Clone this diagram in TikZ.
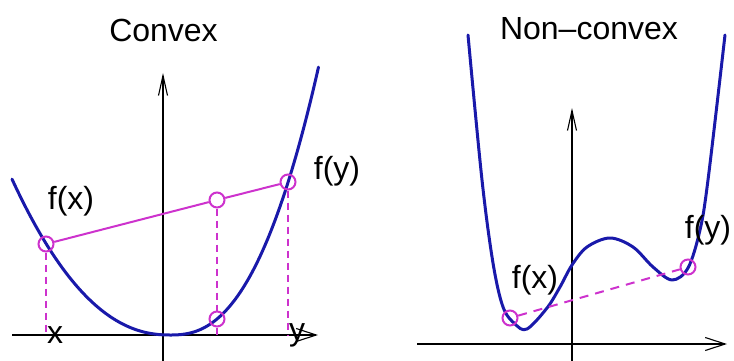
\documentclass[tikz,border=0pt]{standalone}
\usepackage{fontspec}
\setmainfont{Liberation Sans}
\usetikzlibrary{arrows.meta}
\definecolor{fblue}{RGB}{25,25,170}
\definecolor{fmag}{RGB}{205,50,205}
\begin{document}
\begin{tikzpicture}[x=1pt,y=-1pt,
  axis/.style={line width=1.1pt, -{Straight Barb[length=20pt,width=9pt,line width=1.1pt]}},
  hax/.style={line width=1.1pt, -{Straight Barb[length=20pt,width=13pt,line width=1.1pt]}},
  fcurve/.style={line width=3pt, draw=fblue, line cap=round, line join=round},
  chord/.style={line width=2pt, draw=fmag},
  guide/.style={line width=2pt, draw=fmag, dash pattern=on 7pt off 5pt},
  pt/.style={circle, draw=fmag, line width=2pt, minimum size=15pt, inner sep=0pt},
  lbl/.style={font=\fontsize{32}{36}\selectfont, inner sep=0pt, text=black}]
\useasboundingbox (0,0) rectangle (734,361);
% ---------- left: convex ----------
\draw[axis] (163,361) -- (163,73);
\draw[hax] (12,335) -- (318,335);
\draw[fcurve] plot[domain=12:170, samples=80] (\x, {335 - 57*(max(170-\x,0.01)/100)^2.2})
  -- plot[domain=170:318.5, samples=80] (\x, {335 - 101.7*(max(\x-170,0.01)/100)^2.45});
\node[pt] (fx) at (46,244) {};
\node[pt] (fm) at (217,200) {};
\node[pt] (fl) at (217,319) {};
\node[pt] (fy) at (288,182) {};
\coordinate (ax) at (46,335);
\coordinate (am) at (217,335);
\coordinate (ay) at (288,335);
\draw[chord] (fx) -- (fm) -- (fy);
\draw[guide] (fx) -- (ax);
\draw[guide] (fm) -- (fl);
\draw[guide] (fl) -- (am);
\draw[guide] (fy) -- (ay);
\node[lbl] (t1) at (163.5,30) {Convex};
\node[lbl] (lfx) at (71,201) {f(x)};
\node[lbl] (lfy) at (337,171) {f(y)};
\node[lbl] (lx) at (55,335) {x};
\node[lbl] (ly) at (297,335) {y};
% ---------- right: non-convex ----------
\draw[axis] (572,361) -- (572,108);
\draw[hax] (417,344) -- (727,344);
\draw[fcurve] plot[smooth, tension=0.55] coordinates {(468,35) (482,180) (493,263) (503,307) (515,324) (527,329) (547,308) (560,287) (572,265) (587,247) (610,238) (633,247) (653,267) (672,280) (688,268) (700,230) (708,180) (725,35)};
\node[pt] (gx) at (510,318) {};
\node[pt] (gy) at (688,267) {};
\draw[guide, dash pattern=on 9pt off 7pt] (gx) -- (gy);
\node[lbl] (t2) at (589,28.5) {Non–convex};
\node[lbl] (rfx) at (535,280) {f(x)};
\node[lbl] (rfy) at (708,230) {f(y)};
\end{tikzpicture}
\end{document}
